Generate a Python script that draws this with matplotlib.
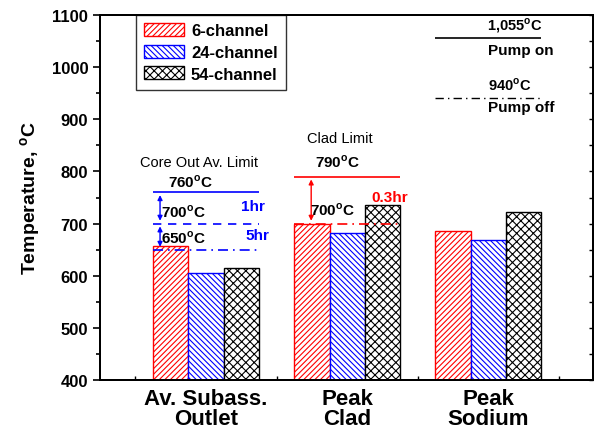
import numpy as np
import matplotlib.pyplot as plt
from matplotlib.ticker import MultipleLocator, FixedLocator

plt.rcParams['font.family'] = ['Liberation Sans', 'DejaVu Sans']
plt.rcParams['hatch.linewidth'] = 0.8

categories = ['Av. Subass.\nOutlet', 'Peak\nClad', 'Peak\nSodium']
series = ['6-channel', '24-channel', '54-channel']
ch6 = [657, 700, 685]
ch24 = [605, 682, 668]
ch54 = [614, 735, 722]

# limit lines
core_limits = [760, 700, 650]
clad_limits = [790, 700]
pump_limits = [1055, 940]

deg = r'$^\mathregular{o}$C'

fig = plt.figure(figsize=(5.97, 4.31), dpi=100)
ax = fig.add_axes([100 / 597, 50 / 431, 493 / 597, 365 / 431])

x = np.arange(1, len(categories) + 1)
w = 0.25
colors = ['red', 'blue', 'black']
hatches = ['//////', '\\\\\\\\\\\\', 'xxxx']
for i, (vals, name) in enumerate(zip([ch6, ch24, ch54], series)):
    ax.bar(x + (i - 1) * w, vals, w, bottom=0, color='white',
           edgecolor=colors[i], hatch=hatches[i], linewidth=1.0, label=name)

ax.set_xlim(0.25, 3.74)
ax.set_ylim(400, 1100)
ax.set_xticks(x)
ax.set_xticklabels(categories, fontsize=16, fontweight='bold', linespacing=0.9)
ax.tick_params(axis='x', length=0, pad=6)
ax.xaxis.set_minor_locator(FixedLocator([0.5, 1.5, 2.5, 3.5]))
ax.tick_params(axis='x', which='minor', direction='in', length=3, width=1)
ax.yaxis.set_major_locator(MultipleLocator(100))
ax.yaxis.set_minor_locator(MultipleLocator(50))
ax.tick_params(axis='y', which='major', direction='out', length=5, width=1.2,
               labelsize=12)
ax.tick_params(axis='y', which='minor', direction='out', length=3, width=1.2)
for lab in ax.get_yticklabels():
    lab.set_fontweight('bold')

# right spine ticks (inward)
ax2 = ax.twinx()
ax2.set_ylim(400, 1100)
ax2.yaxis.set_major_locator(MultipleLocator(50))
ax2.tick_params(axis='y', direction='in', length=3, width=1, labelright=False)

for a in (ax, ax2):
    for s in a.spines.values():
        s.set_linewidth(1.4)

ax.set_ylabel('Temperature, ' + deg, fontsize=14, fontweight='bold', labelpad=6)

dashdot = (0, (6, 3, 1, 3))

# core outlet limits
x0, x1 = 1 - 1.5 * w, 1 + 1.5 * w
ax.hlines(core_limits[0], x0, x1, color='blue', lw=1.2)
ax.hlines(core_limits[1], x0, x1, color='blue', lw=1.2, linestyles=(0, (5, 4)))
ax.hlines(core_limits[2], x0, x1, color='blue', lw=1.2, linestyles=dashdot)
xa = 1 - 1.5 * w + 0.05
ax.annotate('', xy=(xa, core_limits[0]), xytext=(xa, core_limits[1]),
            arrowprops=dict(arrowstyle='<|-|>', color='blue', lw=1, mutation_scale=7))
ax.annotate('', xy=(xa, core_limits[1]), xytext=(xa, core_limits[2]),
            arrowprops=dict(arrowstyle='<|-|>', color='blue', lw=1, mutation_scale=7))
ax.text(0.95, 818, 'Core Out Av. Limit', fontsize=10.5, ha='center', va='center')
ax.text(0.89, 782, str(core_limits[0]) + deg, fontsize=11, fontweight='bold',
        ha='center', va='center')
ax.text(0.68, 724, str(core_limits[1]) + deg, fontsize=11, fontweight='bold',
        ha='left', va='center')
ax.text(0.68, 674, str(core_limits[2]) + deg, fontsize=11, fontweight='bold',
        ha='left', va='center')
ax.text(1.25, 734, '1hr', fontsize=11, fontweight='bold', color='blue',
        ha='left', va='center')
ax.text(1.28, 678, '5hr', fontsize=11, fontweight='bold', color='blue',
        ha='left', va='center')

# clad limits
x0, x1 = 2 - 1.5 * w, 2 + 1.5 * w
ax.hlines(clad_limits[0], x0, x1, color='red', lw=1.2)
ax.hlines(clad_limits[1], x0, x1, color='red', lw=1.2, linestyles=dashdot)
xa = 2 - 1.5 * w + 0.12
ax.annotate('', xy=(xa, clad_limits[0]), xytext=(xa, clad_limits[1]),
            arrowprops=dict(arrowstyle='<|-|>', color='red', lw=1, mutation_scale=7))
ax.text(1.95, 864, 'Clad Limit', fontsize=10.5, ha='center', va='center')
ax.text(1.93, 820, str(clad_limits[0]) + deg, fontsize=11, fontweight='bold',
        ha='center', va='center')
ax.text(1.74, 728, str(clad_limits[1]) + deg, fontsize=11, fontweight='bold',
        ha='left', va='center')
ax.text(2.17, 751, '0.3hr', fontsize=11, fontweight='bold', color='red',
        ha='left', va='center')

# pump limits
x0, x1 = 3 - 1.5 * w, 3 + 1.5 * w
ax.hlines(pump_limits[0], x0, x1, color='black', lw=1.2)
ax.hlines(pump_limits[1], x0, x1, color='black', lw=1.0, linestyles=dashdot)
ax.text(3.19, 1081, '1,055' + deg, fontsize=10.5, fontweight='bold',
        ha='center', va='center')
ax.text(3.23, 1033, 'Pump on', fontsize=11, fontweight='bold',
        ha='center', va='center')
ax.text(3.15, 968, '940' + deg, fontsize=10.5, fontweight='bold',
        ha='center', va='center')
ax.text(3.23, 924, 'Pump off', fontsize=11, fontweight='bold',
        ha='center', va='center')

leg = ax.legend(loc='upper left', bbox_to_anchor=(0.073, 1.0),
                prop={'weight': 'bold', 'size': 12}, frameon=True, fancybox=False,
                edgecolor='black', handlelength=2.4, handleheight=0.8,
                borderaxespad=0, labelspacing=0.38, handletextpad=0.4,
                borderpad=0.5)
leg.get_frame().set_linewidth(1.0)

fig.savefig('out.png', dpi=100)
